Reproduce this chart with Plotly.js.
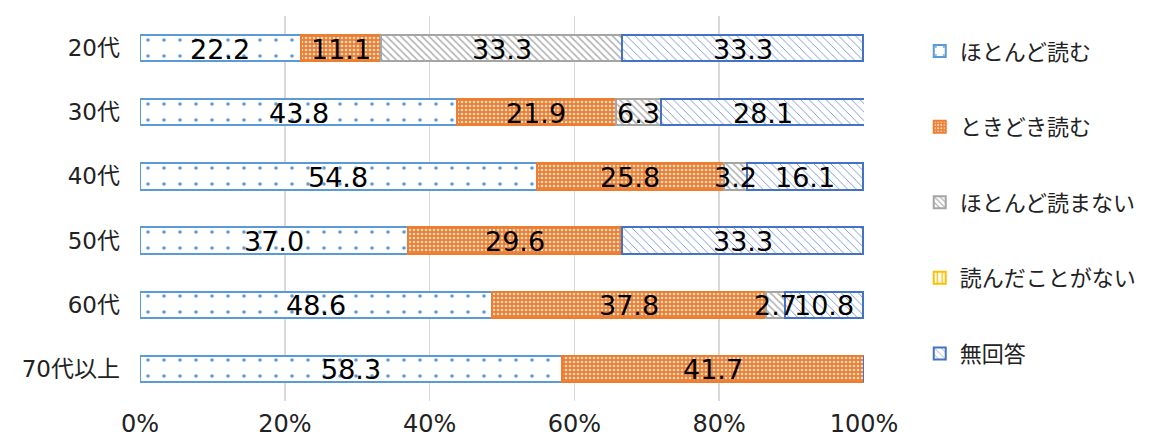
<!DOCTYPE html>
<html><head><meta charset="utf-8">
<script src="https://cdn.plot.ly/plotly-3.0.1.min.js"></script>
<style>html,body{margin:0;padding:0;background:#fff}#chart{width:1154px;height:438px}</style>
</head><body><div id="chart"></div>
<script>
const categories = ["20代","30代","40代","50代","60代","70代以上"];
const seriesNames = ["ほとんど読む","ときどき読む","ほとんど読まない","読んだことがない","無回答"];
const almostAlways = [22.2, 43.8, 54.8, 37.0, 48.6, 58.3];
const sometimes    = [11.1, 21.9, 25.8, 29.6, 37.8, 41.7];
const rarely       = [33.3, 6.3, 3.2, 0, 2.7, 0];
const never        = [0, 0, 0, 0, 0, 0];
const noAnswer     = [33.3, 28.1, 16.1, 33.3, 10.8, 0];
const xTickVals = [0, 20, 40, 60, 80, 100];
const xTickText = ["0%","20%","40%","60%","80%","100%"];

const values = [almostAlways, sometimes, rarely, never, noAnswer];
const styles = [
  {color:'#ffffff', line:'#5B9BD5', pattern:{shape:'.', fgcolor:'#5B9BD5', bgcolor:'#ffffff', size:16, solidity:0.04, fillmode:'replace'}},
  {color:'#ED7D31', line:'#ED7D31', pattern:{shape:'.', fgcolor:'#FBDCC6', bgcolor:'#ED7D31', size:4, solidity:0.35, fillmode:'replace'}},
  {color:'#ffffff', line:'#A5A5A5', pattern:{shape:'\\', fgcolor:'#B0B0B0', bgcolor:'#ffffff', size:5, solidity:0.3, fillmode:'replace'}},
  {color:'#ffffff', line:'#FFC000', pattern:{shape:'|', fgcolor:'#FFC000', bgcolor:'#ffffff', size:6, solidity:0.3, fillmode:'replace'}},
  {color:'#ffffff', line:'#4472C4', pattern:{shape:'\\', fgcolor:'#6F91D3', bgcolor:'#ffffff', size:6, solidity:0.15, fillmode:'replace'}}
];

const FONT = '"DejaVu Sans", "Noto Sans CJK JP", sans-serif';

const traces = values.map((vals, i) => ({
  type:'bar', orientation:'h', name: seriesNames[i],
  y: categories, x: vals,
  marker:{color: styles[i].color, line:{color: styles[i].line, width:2}, pattern: styles[i].pattern},
  legendgroup: 'g'+i,
  hoverinfo:'skip'
}));

// value labels placed at the middle of each stacked segment (data coordinates)
const annotations = [];
categories.forEach((cat, j) => {
  let base = 0;
  values.forEach(vals => {
    const v = vals[j];
    if (v > 0) {
      annotations.push({x: base + v/2, y: cat, xref:'x', yref:'y', text: v.toFixed(1), showarrow:false,
        xanchor:'center', yanchor:'middle', yshift:-1,
        font:{family:FONT, size:27, color:'#000'}});
    }
    base += v;
  });
});

const layout = {
  width:1154, height:438,
  margin:{l:140, r:290, t:16, b:37},
  barmode:'stack', bargap:0.59,
  paper_bgcolor:'#fff', plot_bgcolor:'#fff',
  font:{family:FONT, color:'#222'},
  annotations: annotations,
  xaxis:{range:[0,100], tickvals:xTickVals, ticktext:xTickText, showgrid:true, gridcolor:'#D9D9D9', gridwidth:1.5,
         zeroline:false, showline:false, ticks:'', ticklabelstandoff:6, tickfont:{size:24, color:'#222'}, fixedrange:true},
  yaxis:{autorange:'reversed', showgrid:false, zeroline:false, showline:false, ticks:'', ticklabelstandoff:19,
         tickfont:{size:23, color:'#222'}, fixedrange:true},
  showlegend:true,
  legend:{x:1.077, y:0.963, xanchor:'left', yanchor:'top', traceorder:'grouped', tracegroupgap:44,
          font:{family:'"Noto Sans CJK JP", sans-serif', size:22, color:'#222'}, itemwidth:30, bgcolor:'rgba(0,0,0,0)'}
};
Plotly.newPlot('chart', traces, layout, {displayModeBar:false, staticPlot:true});
</script></body></html>
